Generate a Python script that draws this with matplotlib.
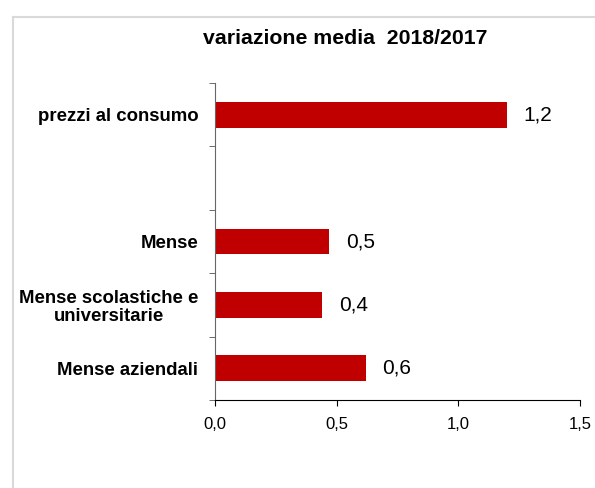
import numpy as np
import matplotlib
matplotlib.use("Agg")
import matplotlib.pyplot as plt
from matplotlib.lines import Line2D

plt.rcParams['font.family'] = ['Liberation Sans', 'DejaVu Sans']

title = "variazione media  2018/2017"
categories = ["prezzi al consumo", "", "Mense", "Mense scolastiche e\nuniversitarie", "Mense aziendali"]
values = [1.20, np.nan, 0.47, 0.44, 0.62]
xticks = [0.0, 0.5, 1.0, 1.5]
xticklabels = ["0,0", "0,5", "1,0", "1,5"]

fig = plt.figure(figsize=(5.95, 4.88), dpi=100)
ax = fig.add_axes([215/595, 1-400/488, (580-215)/595, (400-83)/488])

ypos = np.arange(len(categories))
ax.barh(ypos, values, height=0.41, color='#C00000')

for y, v in zip(ypos, values):
    if np.isnan(v):
        continue
    ax.annotate(f"{v:.1f}".replace('.', ','), xy=(v, y), xytext=(12, 0),
                textcoords='offset points', ha='left', va='center', fontsize=15)

ax.set_xlim(0, 1.5)
ax.set_ylim(len(categories) - 0.5, -0.5)
ax.set_xticks(xticks)
ax.set_xticklabels(xticklabels, fontsize=12)
ax.set_yticks(ypos)
ax.set_yticklabels(categories, fontsize=13.4, fontweight='bold', multialignment='center',
                   linespacing=1.1)
ax.set_yticks(np.arange(-0.5, len(categories)), minor=True)
ax.tick_params(axis='y', which='major', length=0, pad=12)
ax.tick_params(axis='y', which='minor', length=4, direction='out', color='#555555')
ax.tick_params(axis='x', length=4, direction='out', pad=8)

for s in ['top', 'right']:
    ax.spines[s].set_visible(False)
ax.spines['left'].set_color('#666666')
ax.spines['bottom'].set_color('black')

fig.text(345/595, 1-38/488, title, ha='center', va='center', fontsize=15.3, fontweight='bold')

fig.add_artist(Line2D([12.5/595, 12.5/595], [0, 1-17/488], transform=fig.transFigure,
                      color='#d9d9d9', lw=1.5))
fig.add_artist(Line2D([12.5/595, 1], [1-17/488, 1-17/488], transform=fig.transFigure,
                      color='#d9d9d9', lw=1.5))

fig.savefig("out.png", dpi=100)
